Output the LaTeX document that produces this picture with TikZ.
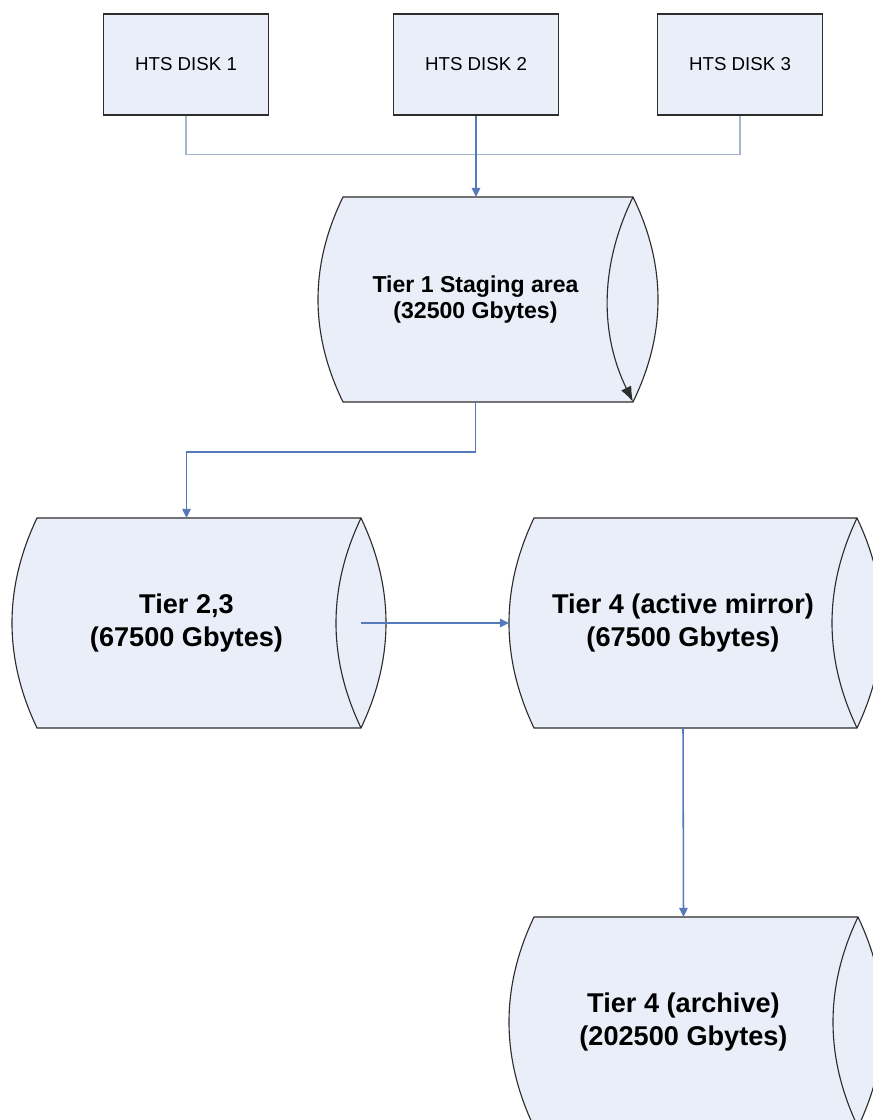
\documentclass[tikz,border=0pt]{standalone}
\usepackage{fontspec}
\setmainfont{Liberation Sans}
\usetikzlibrary{arrows.meta,backgrounds}

\definecolor{boxfill}{RGB}{233,238,248}
\definecolor{boxline}{RGB}{45,45,45}
\definecolor{feedline}{RGB}{165,182,204}
\definecolor{flowline}{RGB}{84,122,188}

% storage drum round a named node: #2 node, #3 half height
\newcommand{\drum}[3][]{%
  \begin{scope}[on background layer]
    \draw[drumline] ([xshift=0.625cm]#2.south west)
      .. controls +(-0.8333cm,{2/3*#3}) and +(-0.8333cm,{-2/3*#3})
      .. ([xshift=0.625cm]#2.north west)
      -- (#2.north east)
      .. controls +(0.8333cm,{-2/3*#3}) and +(0.8333cm,{2/3*#3})
      .. (#2.south east)
      -- cycle;
    \draw[draw=boxline, line width=0.8pt, #1] (#2.north east)
      .. controls +(-0.8333cm,{-2/3*#3}) and +(-0.8333cm,{2/3*#3})
      .. (#2.south east);
  \end{scope}}

\begin{document}
\begin{tikzpicture}[
    >={Triangle[length=6.5pt,width=6pt]},
    disk/.style={draw=boxline, fill=boxfill, line width=0.9pt,
      minimum width=4.125cm, minimum height=2.525cm,
      font=\fontsize{13.3}{16}\selectfont},
    tier/.style={align=center, outer sep=0pt,
      font=\bfseries\fontsize{19.3}{23.5}\selectfont},
    drumline/.style={draw=boxline, fill=boxfill, line width=0.8pt},
    feed/.style={draw=feedline, line width=1.1pt},
    flow/.style={draw=flowline, line width=1.1pt, ->}]
    \useasboundingbox (0,0) rectangle (21.825,28);

    % HTS disks
    \node[disk] (D1) at (4.65, 26.3875) {HTS DISK 1};
    \node[disk] (D2) at (11.9, 26.3875) {HTS DISK 2};
    \node[disk] (D3) at (18.5, 26.3875) {HTS DISK 3};

    % Storage tiers
    \node[tier, font=\bfseries\fontsize{16.4}{18.5}\selectfont,
      minimum width=7.875cm, minimum height=5.125cm]
      (T1) at (11.8875, 20.5125) {Tier 1 Staging area\\(32500 Gbytes)};
    \node[tier, minimum width=8.725cm, minimum height=5.25cm]
      (T23) at (4.6625, 12.425) {Tier 2,3\\(67500 Gbytes)};
    \node[tier, minimum width=8.7cm, minimum height=5.25cm]
      (T4M) at (17.075, 12.425) {Tier 4 (active mirror)\\(67500 Gbytes)};
    \node[tier, minimum width=8.725cm, minimum height=5.25cm]
      (T4A) at (17.0875, 2.45) {Tier 4 (archive)\\(202500 Gbytes)};

    \drum[-{Latex[length=11pt,width=8pt]}]{T1}{2.5625cm}
    \drum{T23}{2.625cm}
    \drum{T4M}{2.625cm}
    \drum{T4A}{2.625cm}

    % Connectors
    \draw[feed] (D1.south) -- ++(0,-0.975) -| (D3.south);
    \draw[flow] (D2.south) -- (D2 |- T1.north);
    \draw[flow] (T1.south) -- ++(0,-1.25) -| (T23.north);
    \draw[flow] (T23.east) -- (T4M.west);
    \draw[flow] (T4M.south) -- (T4A.north);
\end{tikzpicture}
\end{document}
